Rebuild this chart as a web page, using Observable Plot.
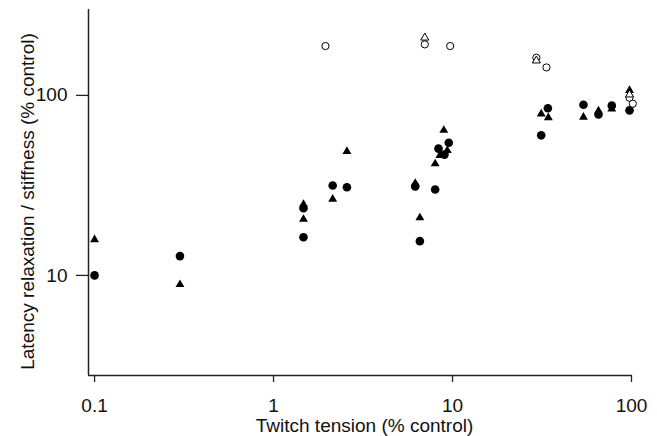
<!DOCTYPE html>
<html>
<head>
<meta charset="utf-8">
<script src="https://cdn.jsdelivr.net/npm/d3@7"></script>
<script src="https://cdn.jsdelivr.net/npm/@observablehq/plot@0.6"></script>
<style>
  html, body { margin: 0; padding: 0; background: #fff; }
</style>
</head>
<body>
<div id="chart"></div>
<script>
// Twitch tension (% control) vs latency relaxation / stiffness (% control)
const xTicks = [0.1, 1, 10, 100];
const yTicks = [10, 100];
const xLabel = "Twitch tension (% control)";
const yLabel = "Latency relaxation / stiffness (% control)";

// Filled circles
const filledCircleX = [0.1, 0.3, 1.47, 1.47, 2.14, 2.57, 6.19, 6.57, 8.0, 8.35, 9.53, 9.02, 31.3, 34.1, 53.9, 65.4, 77.6, 97.5];
const filledCircleY = [10, 12.8, 23.6, 16.3, 31.6, 30.9, 31.2, 15.5, 30, 50.6, 54.6, 46.9, 60, 84.9, 88.7, 78.4, 87.7, 82.6];
// Filled triangles
const filledTriX = [0.1, 0.3, 1.47, 1.47, 2.14, 2.57, 6.19, 6.57, 8.94, 8.0, 8.5, 9.35, 31.3, 34.3, 53.9, 65.4, 77.6, 97.5];
const filledTriY = [15.8, 8.9, 20.5, 24.8, 26.5, 48.9, 32.5, 20.9, 64, 41.7, 46.4, 49.4, 79, 75.2, 75.7, 82, 84, 106.7];
// Open circles
const openCircleX = [1.95, 7.0, 9.7, 29.4, 33.5, 97.5, 101.7];
const openCircleY = [188, 192, 188, 162, 143, 97, 89.9];
// Open triangles
const openTriX = [7.0, 29.4, 97.5];
const openTriY = [209, 156, 101];

const zip = (xs, ys) => xs.map((x, i) => ({x, y: ys[i]}));
const filledCircles = zip(filledCircleX, filledCircleY);
const filledTris = zip(filledTriX, filledTriY);
const openCircles = zip(openCircleX, openCircleY);
const openTris = zip(openTriX, openTriY);

const xDomain = [0.0925, 101.3];
const yDomain = [2.78, 300];

const chart = Plot.plot({
  width: 657,
  height: 436,
  marginLeft: 88,
  marginRight: 25,
  marginTop: 9,
  marginBottom: 61,
  style: {fontFamily: "'Liberation Sans', Arial, Helvetica, sans-serif", color: "#111", background: "#fff"},
  x: {type: "log", domain: xDomain},
  y: {type: "log", domain: yDomain},
  marks: [
    Plot.axisX(xTicks, {tickSize: 7, tickPadding: 16, fontSize: 19, tickFormat: d => String(d), label: null, stroke: "#222", strokeWidth: 1.3}),
    Plot.axisY(yTicks, {tickSize: 12, tickPadding: 9, fontSize: 19, tickFormat: d => String(d), label: null, stroke: "#222", strokeWidth: 1.3}),
    Plot.ruleX([xDomain[0]], {stroke: "#222", strokeWidth: 1.5}),
    Plot.ruleY([yDomain[0]], {stroke: "#222", strokeWidth: 1.5}),
    Plot.dot(filledTris, {x: "x", y: "y", symbol: "triangle", r: 3.3, fill: "#000", stroke: null}),
    Plot.dot(filledCircles, {x: "x", y: "y", r: 4.3, fill: "#000", stroke: null}),
    Plot.dot(openCircles, {x: "x", y: "y", r: 3.6, fill: "#fff", stroke: "#000", strokeWidth: 1}),
    Plot.dot(openTris, {x: "x", y: "y", symbol: "triangle", r: 3.0, fill: "#fff", stroke: "#000", strokeWidth: 1}),
    Plot.text([yLabel], {text: d => d, frameAnchor: "left", textAnchor: "middle", lineAnchor: "middle", rotate: -90, dx: -61, dy: 9, fontSize: 19, fill: "#111"}),
    Plot.text([xLabel], {text: d => d, frameAnchor: "bottom", textAnchor: "middle", lineAnchor: "middle", dx: 4, dy: 50, fontSize: 19, fill: "#111"})
  ]
});
document.getElementById("chart").appendChild(chart);
</script>
</body>
</html>
